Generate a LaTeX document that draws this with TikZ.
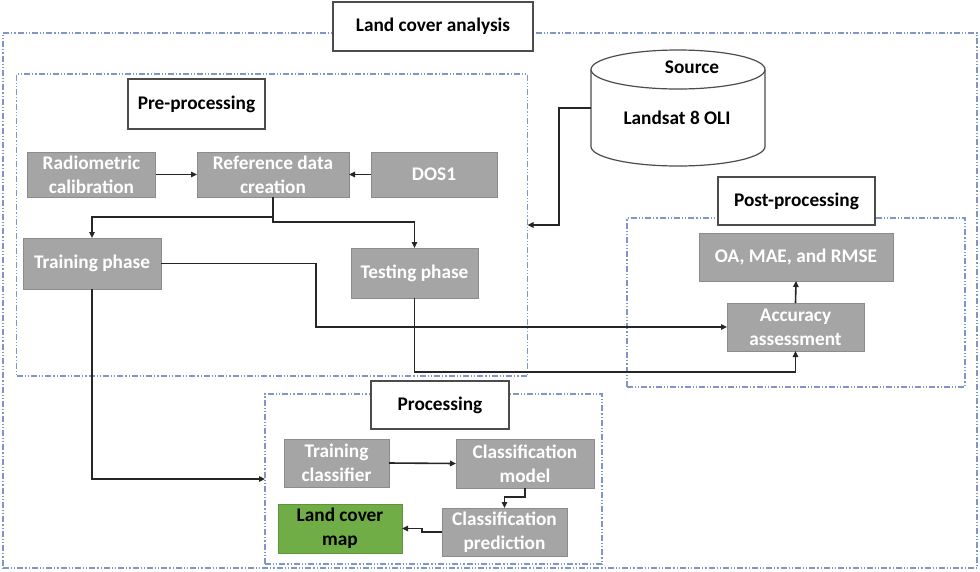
\documentclass[tikz,border=0pt]{standalone}
\usepackage{fontspec}
\setmainfont{Carlito}
\usetikzlibrary{arrows.meta}
\definecolor{boxgray}{HTML}{A5A5A5}
\definecolor{mapgreen}{HTML}{70AD47}
\definecolor{dashblue}{HTML}{8196C8}
\definecolor{linedark}{HTML}{262626}
\begin{document}
\begin{tikzpicture}[x=1pt,y=-1pt,
  every node/.style={font=\fontsize{19.3}{24}\selectfont\bfseries, align=center, inner sep=0pt, outer sep=0pt},
  gbox/.style={fill=boxgray, draw=boxgray!85!black, line width=0.6pt, text=white},
  greenbox/.style={fill=mapgreen, draw=mapgreen!85!black, line width=0.6pt, text=black},
  lbox/.style={fill=white, draw=black!70, line width=1.2pt, text=black},
  grp/.style={draw=dashblue, line width=1.2pt, dash pattern=on 6pt off 2pt on 1.2pt off 2pt on 1.2pt off 2pt, fill=none},
  conn/.style={draw=linedark, line width=1.6pt, -{Triangle[length=6pt,width=5.5pt]}}
]
\useasboundingbox (0,0) rectangle (980,571);
\fill[white] (0,0) rectangle (980,571);

% groups
\node[grp, minimum width=974pt, minimum height=535pt] (outer) at (490,300.5) {};
\node[grp, minimum width=511pt, minimum height=302pt] (pregrp) at (272,225) {};
\node[grp, minimum width=338pt, minimum height=169pt] (postgrp) at (796,302.5) {};
\node[grp, minimum width=337pt, minimum height=170pt] (procgrp) at (433.5,479) {};

% label boxes
\node[lbox, minimum width=200pt, minimum height=49pt] (lca) at (433,26.5) {Land cover analysis};
\node[lbox, minimum width=137pt, minimum height=50pt] (prelbl) at (196.5,104) {Pre-processing};
\node[lbox, minimum width=157pt, minimum height=48pt] (postlbl) at (796.5,201) {Post-processing};
\node[lbox, minimum width=138pt, minimum height=48pt] (proclbl) at (440,405) {Processing};

% source cylinder
\node[minimum width=174pt, minimum height=116pt] (src) at (678,108) {};
\fill[white] (591,69.5) -- (591,146.5) arc[start angle=180, end angle=360, x radius=87pt, y radius=19.5pt] -- (765,69.5) arc[start angle=0, end angle=180, x radius=87pt, y radius=19.5pt] -- cycle;
\draw[black!70, line width=1.2pt] (591,69.5) -- (591,146.5) arc[start angle=180, end angle=360, x radius=87pt, y radius=19.5pt] -- (765,69.5);
\draw[black!70, line width=1.2pt] (678,69.5) ellipse [x radius=87pt, y radius=19.5pt];
\node (srct) at (692,67) {Source};
\node (srcl) at (677,118) {Landsat 8 OLI};

% pre-processing boxes
\node[gbox, minimum width=128pt, minimum height=45pt] (rad) at (91.5,174.5) {Radiometric\\calibration};
\node[gbox, minimum width=152pt, minimum height=45pt] (ref) at (273,174.5) {Reference data\\creation};
\node[gbox, minimum width=126pt, minimum height=45pt] (dos) at (434,174.5) {DOS1};
\node[gbox, minimum width=138pt, minimum height=51pt] (train) at (92,263.5) {Training phase};
\node[gbox, minimum width=127pt, minimum height=50pt] (test) at (414.5,273) {Testing phase};

% post-processing boxes
\node[gbox, minimum width=194pt, minimum height=48pt] (oa) at (796,257) {OA, MAE, and RMSE};
\node[gbox, minimum width=137pt, minimum height=48pt] (acc) at (795.5,327) {Accuracy\\assessment};

% processing boxes
\node[gbox, minimum width=105pt, minimum height=48pt] (tc) at (336.5,463) {Training\\classifier};
\node[gbox, minimum width=138pt, minimum height=49pt] (cm) at (525,463.5) {Classification\\model};
\node[greenbox, minimum width=124pt, minimum height=49pt] (lcm) at (340,528.5) {Land cover\\map};
\node[gbox, minimum width=125pt, minimum height=48pt] (cp) at (504.5,532) {Classification\\prediction};

% connectors
\draw[conn] (rad.east) -- (ref.west);
\draw[conn] (dos.west) -- (ref.east);
\draw[conn] (ref.south) -- ++(0,20) -| (train.north);
\draw[conn] (ref.south) -- ++(0,25) -| (test.north);
\draw[conn] (train.east) -- ++(155,0) |- (acc.west);
\draw[conn] (test.south) -- ++(0,74) -| (acc.south);
\draw[conn] (acc.north) -- (oa.south);
\draw[conn] (src.west) -- ++(-32,0) |- (pregrp.east);
\draw[conn] (train.south) |- (procgrp.west);
\draw[conn] (tc.east) -- (cm.west);
\draw[conn] (cm.south) -- ++(0,9) -| (cp.north);
\draw[conn] (cp.west) -- ++(-20,0) |- (lcm.east);
\end{tikzpicture}
\end{document}
